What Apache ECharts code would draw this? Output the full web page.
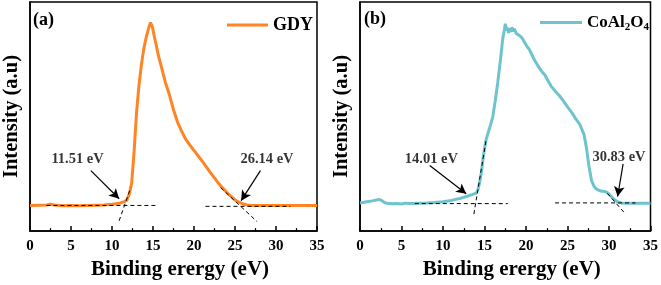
<!DOCTYPE html>
<html><head><meta charset="utf-8">
<script src="https://cdn.jsdelivr.net/npm/echarts@6/dist/echarts.min.js"></script>
<style>html,body{margin:0;padding:0;background:#fff}#c{width:661px;height:285px}</style>
</head><body><div id="c"></div>
<script>
// ---- data ----
const xTicks = [0,5,10,15,20,25,30,35];
const gdyX = [0,1,2,2.5,3,4,5,6,7,8,9,10,10.5,11,11.5,11.8,12.1,12.4,12.7,13.0,13.3,13.6,13.9,14.2,14.5,14.7,14.9,15.1,15.4,15.7,16,16.5,17,17.5,18,18.5,19,19.5,20,21,22,23,24,25,25.5,26,26.5,27,28,29,30,31,32,33,34,35];
const gdyY = [11.2,11.3,11.4,11.7,11.4,11.1,11.2,11.1,11.2,11.3,11.4,11.7,12.0,12.3,12.8,13.5,16,21,35,52,64,73,80,85,89,91,89.5,86,81,76,72,65,59.5,53,47.5,43.5,40,37.5,35.2,30.5,25.5,20.8,16.8,13.6,12.6,11.8,11.4,11.2,11.2,11.2,11.2,11.2,11.2,11.2,11.2,11.2];
const coX = [0,0.5,1,1.5,2,2.3,2.6,3,3.5,4,4.5,5,5.5,6,7,8,9,10,11,12,13,13.5,14,14.2,14.4,14.6,14.8,15,15.2,15.4,15.7,16,16.3,16.6,16.9,17.2,17.4,17.5,17.6,17.7,17.8,17.9,18,18.2,18.3,18.5,18.6,18.8,19,19.2,19.5,19.8,20,20.3,20.5,21,21.5,22,22.3,22.5,23,23.5,24,24.5,25,25.5,26,26.5,27,27.3,27.6,27.9,28.2,28.5,29,29.5,29.8,30.1,30.5,31,31.5,32,33,34,35];
const coY = [12.3,12.6,12.9,13.2,13.6,13.8,13.4,12.4,12.0,11.9,12.0,11.8,12.2,12.1,12.2,12.3,12.5,12.8,13.4,14.2,15.3,15.9,16.6,18,21,25,31,36,40,42.5,46,50,57,65,74,84,88,90.5,91.3,87.5,88.8,86.5,88.5,87,89,87.2,88.3,86.4,86.8,85.4,84.4,82.6,81.3,79.8,78.6,74.8,71.8,69.2,68,66.6,63.4,61.2,59.2,56.8,54.2,51.8,49,46.5,42,36,28,22,19.5,18.3,17.5,17.3,16.8,15.8,14.2,12.8,12.3,12.2,12.2,12.2,12.2];
// tangent/baseline dashed lines [x1,y1,x2,y2]
const gdyDash = [[2,11.2,15.5,11.2],[10.87,4.5,12.29,19],[21.4,10.8,31.75,10.8],[23.24,19,27.7,4.1]];
const coDash = [[6.6,12.0,17.8,12.0],[13.72,7.4,15.2,39.9],[23.5,12.3,33.2,12.3],[29.8,16.5,32,7.4]];
// arrows [x1,y1,x2,y2]
const gdyArrows = [[7.42,26.4,10.87,14.1],[28.1,26.4,25.75,13.3]];
const coArrows = [[8.4,28.6,12.8,16.3],[31.7,29.3,31.04,15.1]];
// annotation labels [x,y,text]
const gdyLabels = [[5.8,31.4,'11.51 eV'],[28.9,31.4,'26.14 eV']];
const coLabels = [[8.6,31.4,'14.01 eV'],[31.2,32.1,'30.83 eV']];

const FONT = 'Liberation Serif';
const chart = echarts.init(document.getElementById('c'));
const grids = [
  {left:29, right:344, top:2, bottom:48, show:true, borderColor:'#000', borderWidth:1.5},
  {left:360, right:9, top:2, bottom:48, show:true, borderColor:'#000', borderWidth:1.5}
];
function xAxis(i){
  return {type:'value', gridIndex:i, min:0, max:35, interval:5,
    name:'Binding erergy (eV)', nameLocation:'middle', nameGap:23,
    nameTextStyle:{fontFamily:FONT, fontWeight:'bold', fontSize:21, color:'#000', padding:[0,0,0,13]},
    axisLine:{show:true, lineStyle:{color:'#000', width:1.5}},
    axisTick:{show:true, inside:true, length:5, lineStyle:{color:'#000', width:1.5}},
    minorTick:{show:true, splitNumber:2, length:3, lineStyle:{color:'#000', width:1.2}},
    axisLabel:{fontFamily:FONT, fontWeight:'bold', fontSize:15, color:'#000', margin:8,
      formatter:v=>xTicks.includes(v)?String(v):''},
    splitLine:{show:false}};
}
function yAxis(i){
  return {type:'value', gridIndex:i, min:0, max:100,
    name:'Intensity (a.u)', nameLocation:'middle', nameGap:8,
    nameTextStyle:{fontFamily:FONT, fontWeight:'bold', fontSize:20.5, color:'#000'},
    axisLine:{show:true, lineStyle:{color:'#000', width:1.5}},
    axisTick:{show:false}, axisLabel:{show:false}, splitLine:{show:false}};
}
function zip(xs,ys){return xs.map((x,k)=>[x,ys[k]]);}
function dashSeries(list,i){
  return list.map(d=>({type:'line', xAxisIndex:i, yAxisIndex:i, data:[[d[0],d[1]],[d[2],d[3]]],
    showSymbol:false, silent:true, z:5, lineStyle:{color:'#000', width:1, type:[4,3]}}));
}
function arrowSeries(list,labels,i){
  return {type:'scatter', xAxisIndex:i, yAxisIndex:i, symbolSize:0, silent:true, z:6,
    data:labels.map(l=>({value:[l[0],l[1]], label:{show:true, formatter:l[2], position:'inside',
      fontFamily:FONT, fontWeight:'bold', fontSize:14.5, color:'#000'}})),
    markLine:{silent:true, animation:false, symbol:['none','arrow'], symbolSize:[8,10],
      lineStyle:{color:'#000', width:1.2, type:'solid'}, label:{show:false},
      data:list.map(a=>[{coord:[a[0],a[1]]},{coord:[a[2],a[3]]}])}};
}
const option = {
  animation:false,
  grid:grids,
  xAxis:[xAxis(0), xAxis(1)],
  yAxis:[yAxis(0), yAxis(1)],
  legend:[
    {data:['GDY'], left:222, top:11, itemWidth:41, itemHeight:3, itemGap:4, icon:'rect',
     textStyle:{fontFamily:FONT, fontWeight:'bold', fontSize:18, color:'#000'}},
    {data:['CoAl2O4'], left:535, top:9, itemWidth:42, itemHeight:3, icon:'rect',
     formatter:()=> '{a|CoAl}{s|2}{a|O}{s|4}',
     textStyle:{fontFamily:FONT, fontWeight:'bold', fontSize:17, color:'#000',
       rich:{a:{fontFamily:FONT, fontWeight:'bold', fontSize:17, color:'#000'},
             s:{fontFamily:FONT, fontWeight:'bold', fontSize:11, color:'#000', padding:[9,0,0,0]}}}}
  ],
  graphic:[
    {type:'text', left:33, top:11, style:{text:'(a)', font:'bold 18px "Liberation Serif"', fill:'#000'}},
    {type:'text', left:364, top:10, style:{text:'(b)', font:'bold 18px "Liberation Serif"', fill:'#000'}}
  ],
  series:[
    {name:'GDY', type:'line', xAxisIndex:0, yAxisIndex:0, data:zip(gdyX,gdyY), showSymbol:false,
     color:'#FF8424', lineStyle:{color:'#FF8424', width:3}, z:3},
    {name:'CoAl2O4', type:'line', xAxisIndex:1, yAxisIndex:1, data:zip(coX,coY), showSymbol:false,
     color:'#6DC4CD', lineStyle:{color:'#6DC4CD', width:3}, z:3},
    ...dashSeries(gdyDash,0), ...dashSeries(coDash,1),
    arrowSeries(gdyArrows,gdyLabels,0), arrowSeries(coArrows,coLabels,1)
  ]
};
chart.setOption(option);
</script></body></html>
